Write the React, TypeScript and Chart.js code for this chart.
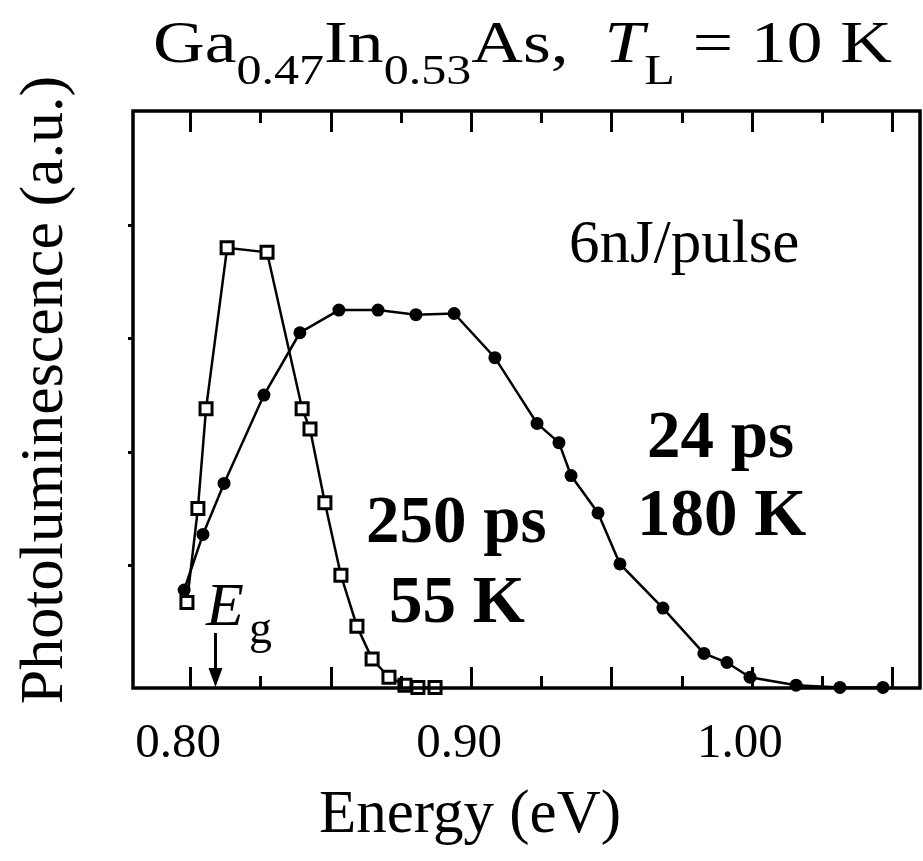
import React, { useEffect, useRef } from 'react';
import { Chart, registerables } from 'chart.js';

Chart.register(...registerables);

// 250 ps, 55 K (open squares)
const sq55Energy = [0.7989, 0.8028, 0.8057, 0.8132, 0.8274, 0.8399, 0.8427, 0.848, 0.8537, 0.8594, 0.8648, 0.8708, 0.8765, 0.8811, 0.8872];
const sq55PL = [0.67, 1.5, 2.38, 3.8, 3.76, 2.38, 2.2, 1.55, 0.91, 0.46, 0.17, 0.01, -0.06, -0.08, -0.08];

// 24 ps, 180 K (filled circles)
const ci180Energy = [0.7979, 0.8046, 0.8121, 0.8263, 0.8391, 0.853, 0.8669, 0.8804, 0.894, 0.9085, 0.9235, 0.9313, 0.9356, 0.9452, 0.953, 0.9683, 0.9829, 0.9911, 0.9993, 1.0157, 1.0313, 1.0466];
const ci180PL = [0.78, 1.27, 1.72, 2.5, 3.05, 3.25, 3.25, 3.21, 3.22, 2.83, 2.25, 2.08, 1.79, 1.46, 1.01, 0.62, 0.22, 0.14, 0.01, -0.06, -0.08, -0.08];

const xTickValues = [0.8, 0.9, 1.0];
const xTickLabels = ['0.80', '0.90', '1.00'];
const xMajorTicks = [0.8, 0.85, 0.9, 0.95, 1.0, 1.05];
const xMinorTicks = [0.825, 0.875, 0.925, 0.975, 1.025];
const yTickValues = [1, 2, 3, 4];
const egEnergy = 0.809;

const X_MIN = 0.7797;
const X_MAX = 1.0598;
const Y_MIN = -0.085;
const Y_MAX = 5.007;

const SERIF = '"Liberation Serif", "Times New Roman", serif';

const decorPlugin = {
  id: 'decor',
  afterDraw(chart: any) {
    const { ctx, chartArea: a, scales } = chart;
    const xs = scales.x;
    const ys = scales.y;
    ctx.save();
    ctx.strokeStyle = '#000';
    ctx.fillStyle = '#000';
    // frame
    ctx.lineWidth = 3.5;
    ctx.strokeRect(a.left, a.top, a.right - a.left, a.bottom - a.top);
    // x ticks (inward, bottom and top)
    ctx.lineWidth = 3;
    const drawX = (vals: number[], len: number) => {
      vals.forEach((v) => {
        const px = Math.round(xs.getPixelForValue(v)) + 0.5;
        ctx.beginPath();
        ctx.moveTo(px, a.bottom);
        ctx.lineTo(px, a.bottom - len);
        ctx.moveTo(px, a.top);
        ctx.lineTo(px, a.top + len);
        ctx.stroke();
      });
    };
    drawX(xMajorTicks, 21);
    drawX(xMinorTicks, 12);
    // y ticks (small, outward)
    yTickValues.forEach((v) => {
      const py = Math.round(ys.getPixelForValue(v)) + 0.5;
      ctx.beginPath();
      ctx.moveTo(a.left, py);
      ctx.lineTo(a.left - 5, py);
      ctx.stroke();
    });

    // Title with subscripts
    const mainF = `60px ${SERIF}`;
    const subF = `42px ${SERIF}`;
    const italF = `italic 60px ${SERIF}`;
    const parts: [string, string, number][] = [
      ['Ga', mainF, 0],
      ['0.47', subF, 22],
      ['In', mainF, 0],
      ['0.53', subF, 22],
      ['As,  ', mainF, 0],
      ['T', italF, 0],
      ['L', subF, 22],
      [' = 10 K', mainF, 0],
    ];
    let total = 0;
    parts.forEach(([t, f]) => {
      ctx.font = f;
      total += ctx.measureText(t).width;
    });
    const tLeft = 153;
    const tRight = 892;
    const sx = (tRight - tLeft) / total;
    ctx.save();
    ctx.translate(tLeft, 62);
    ctx.scale(sx, 1);
    ctx.textBaseline = 'alphabetic';
    ctx.textAlign = 'left';
    let cx = 0;
    parts.forEach(([t, f, dy]) => {
      ctx.font = f;
      ctx.fillText(t, cx, dy);
      cx += ctx.measureText(t).width;
    });
    ctx.restore();

    // annotations
    ctx.textAlign = 'left';
    ctx.textBaseline = 'alphabetic';
    ctx.font = `61px ${SERIF}`;
    ctx.fillText('6nJ/pulse', 569, 262);
    ctx.font = `bold 67px ${SERIF}`;
    ctx.fillText('250 ps', 366, 542);
    ctx.fillText('55 K', 389, 622);
    ctx.fillText('24 ps', 647, 457);
    ctx.fillText('180 K', 637, 535);

    // E_g with arrow
    ctx.font = `italic 62px ${SERIF}`;
    ctx.fillText('E', 206, 625);
    ctx.font = `46px ${SERIF}`;
    ctx.fillText('g', 249, 643);
    const ex = Math.round(xs.getPixelForValue(egEnergy)) + 0.5;
    ctx.lineWidth = 3;
    ctx.beginPath();
    ctx.moveTo(ex, 633);
    ctx.lineTo(ex, a.bottom - 6);
    ctx.stroke();
    ctx.beginPath();
    ctx.moveTo(ex - 7, a.bottom - 20);
    ctx.lineTo(ex, a.bottom - 1);
    ctx.lineTo(ex + 7, a.bottom - 20);
    ctx.closePath();
    ctx.fill();

    // axis titles
    ctx.font = `61px ${SERIF}`;
    ctx.textAlign = 'center';
    ctx.fillText('Energy (eV)', 470, 832);
    ctx.save();
    ctx.translate(62, 390);
    ctx.rotate(-Math.PI / 2);
    ctx.font = `62px ${SERIF}`;
    ctx.fillText('Photoluminescence (a.u.)', 0, 0);
    ctx.restore();

    ctx.restore();
  },
};

export default function App() {
  const ref = useRef<HTMLCanvasElement>(null);
  useEffect(() => {
    if (!ref.current) return;
    const chart = new Chart(ref.current, {
      type: 'scatter',
      data: {
        datasets: [
          {
            label: '250 ps, 55 K',
            data: sq55Energy.map((x, i) => ({ x, y: sq55PL[i] })),
            showLine: true,
            borderColor: '#000',
            borderWidth: 2.5,
            pointStyle: 'rect',
            pointRadius: 8.5,
            pointBorderWidth: 3,
            pointBackgroundColor: '#fff',
            pointBorderColor: '#000',
            clip: false,
            order: 0,
          },
          {
            label: '24 ps, 180 K',
            data: ci180Energy.map((x, i) => ({ x, y: ci180PL[i] })),
            showLine: true,
            borderColor: '#000',
            borderWidth: 2.5,
            pointStyle: 'circle',
            pointRadius: 6.5,
            pointBorderWidth: 0,
            pointBackgroundColor: '#000',
            clip: false,
            order: 1,
          },
        ],
      },
      options: {
        animation: false,
        responsive: false,
        maintainAspectRatio: false,
        layout: { autoPadding: false, padding: { top: 111, right: 3, left: 0, bottom: 0 } },
        plugins: {
          legend: { display: false },
          tooltip: { enabled: false },
          title: { display: false },
        },
        scales: {
          x: {
            type: 'linear',
            min: X_MIN,
            max: X_MAX,
            grid: { display: false, drawTicks: false },
            border: { display: false },
            afterBuildTicks: (s: any) => {
              s.ticks = xTickValues.map((v) => ({ value: v }));
            },
            afterFit: (s: any) => {
              s.height = 173;
            },
            ticks: {
              autoSkip: false,
              maxRotation: 0,
              padding: 27,
              labelOffset: -12,
              color: '#000',
              font: { family: SERIF, size: 49 },
              callback: (v: any) => {
                const i = xTickValues.findIndex((t) => Math.abs(t - v) < 1e-6);
                return i >= 0 ? xTickLabels[i] : '';
              },
            },
          },
          y: {
            type: 'linear',
            min: Y_MIN,
            max: Y_MAX,
            grid: { display: false, drawTicks: false },
            border: { display: false },
            afterBuildTicks: (s: any) => {
              s.ticks = yTickValues.map((v) => ({ value: v }));
            },
            afterFit: (s: any) => {
              s.width = 133;
            },
            ticks: { display: false },
          },
        },
      },
      plugins: [decorPlugin],
    });
    return () => chart.destroy();
  }, []);
  return (
    <div style={{ position: 'fixed', left: 0, top: 0, width: 923, height: 861, background: '#fff' }}>
      <canvas ref={ref} width={923} height={861} />
    </div>
  );
}
